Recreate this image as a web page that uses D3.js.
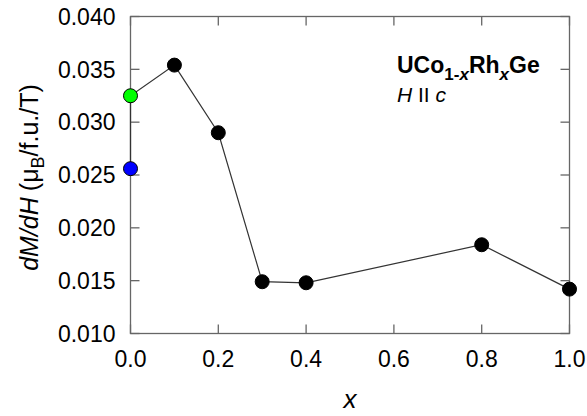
<!DOCTYPE html>
<html><head><meta charset="utf-8">
<script src="https://cdn.jsdelivr.net/npm/d3@7"></script>
<style>body{margin:0;background:#fff;}svg{display:block;font-family:Arial,"Liberation Sans",sans-serif;}</style>
</head><body>
<svg id="c" width="587" height="416"></svg>
<script>
const xValues = [0.0, 0.0, 0.1, 0.2, 0.3, 0.4, 0.8, 1.0];
const yValues = [0.0256, 0.0325, 0.0354, 0.0290, 0.0149, 0.0148, 0.0184, 0.0142];
const pointColors = ["#0000ff", "#00ff00", "#000", "#000", "#000", "#000", "#000", "#000"];
const xTicks = [0.0, 0.2, 0.4, 0.6, 0.8, 1.0];
const yTicks = [0.010, 0.015, 0.020, 0.025, 0.030, 0.035, 0.040];

const svg = d3.select("#c");
const L = 130.5, R = 569.5, T = 16.5, B = 333.5;
const x = d3.scaleLinear().domain([0, 1]).range([L, R]);
const y = d3.scaleLinear().domain([0.010, 0.040]).range([B, T]);
const axisColor = "#666";
const fs = 23;

// frame
svg.append("rect").attr("x", L).attr("y", T).attr("width", R - L).attr("height", B - T)
  .attr("fill", "none").attr("stroke", axisColor).attr("stroke-width", 1.3);

// ticks
const tl = 9;
const gx = svg.append("g");
xTicks.forEach(t => {
  gx.append("line").attr("x1", x(t)).attr("x2", x(t)).attr("y1", B).attr("y2", B - tl).attr("stroke", axisColor).attr("stroke-width", 1.3);
  gx.append("line").attr("x1", x(t)).attr("x2", x(t)).attr("y1", T).attr("y2", T + tl).attr("stroke", axisColor).attr("stroke-width", 1.3);
  gx.append("text").attr("x", x(t)).attr("y", B + 33.5).attr("text-anchor", "middle")
    .attr("font-size", fs).text(d3.format(".1f")(t));
});
const gy = svg.append("g");
yTicks.forEach(t => {
  gy.append("line").attr("x1", L).attr("x2", L + tl).attr("y1", y(t)).attr("y2", y(t)).attr("stroke", axisColor).attr("stroke-width", 1.3);
  gy.append("line").attr("x1", R).attr("x2", R - tl).attr("y1", y(t)).attr("y2", y(t)).attr("stroke", axisColor).attr("stroke-width", 1.3);
  gy.append("text").attr("x", L - 15).attr("y", y(t) + 8.3).attr("text-anchor", "end")
    .attr("font-size", fs).text(d3.format(".3f")(t));
});

// line
const pts = xValues.map((v, i) => [v, yValues[i]]);
svg.append("path").datum(pts)
  .attr("d", d3.line().x(d => x(d[0])).y(d => y(d[1])))
  .attr("fill", "none").attr("stroke", "#333").attr("stroke-width", 1.2);

svg.append("g").selectAll("circle").data(pts).join("circle")
  .attr("cx", d => x(d[0])).attr("cy", d => y(d[1])).attr("r", 7)
  .attr("fill", (d, i) => pointColors[i]).attr("stroke", "#000").attr("stroke-width", 1);

// axis titles
svg.append("text").attr("x", (L + R) / 2).attr("y", 408).attr("text-anchor", "middle")
  .attr("font-size", 26).attr("font-style", "italic").text("x");

const yl = svg.append("text").attr("transform", `translate(38,177.5) rotate(-90)`)
  .attr("text-anchor", "middle").attr("font-size", 25);
yl.append("tspan").attr("font-style", "italic").text("dM/dH");
yl.append("tspan").attr("dx", 6).text("(μ");
yl.append("tspan").attr("font-size", 18).attr("dy", 6).text("B");
yl.append("tspan").attr("dy", -6).text("/f.u./T)");

// annotation
const a1 = svg.append("text").attr("x", 397).attr("y", 73).attr("font-size", 23).attr("font-weight", "bold");
a1.append("tspan").text("UCo");
a1.append("tspan").attr("font-size", 17).attr("dy", 7).text("1-");
a1.append("tspan").attr("font-size", 17).attr("font-style", "italic").text("x");
a1.append("tspan").attr("dy", -7).text("Rh");
a1.append("tspan").attr("font-size", 17).attr("dy", 7).attr("font-style", "italic").text("x");
a1.append("tspan").attr("dy", -7).text("Ge");

const a2 = svg.append("text").attr("x", 397).attr("y", 102).attr("font-size", 21);
a2.append("tspan").attr("font-style", "italic").text("H");
a2.append("tspan").text(" II ");
a2.append("tspan").attr("font-style", "italic").text("c");
</script>
</body></html>
